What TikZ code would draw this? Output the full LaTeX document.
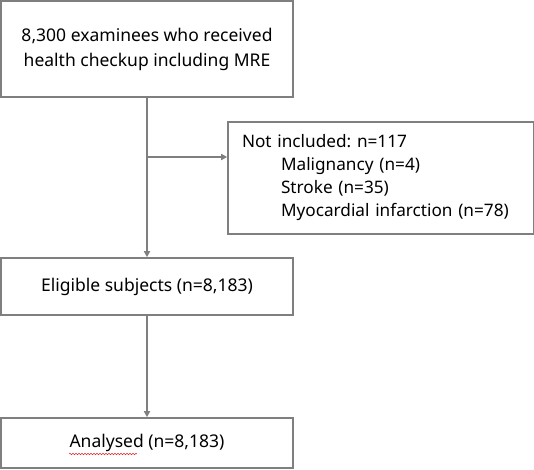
\documentclass[tikz,border=0pt]{standalone}
\usepackage{fontspec}
\setmainfont{Noto Sans}
\usetikzlibrary{arrows.meta,decorations.pathmorphing}
\definecolor{lgrey}{RGB}{127,127,127}
\definecolor{squig}{RGB}{220,40,40}
\frenchspacing
\begin{document}
\begin{tikzpicture}[x=1pt,y=-1pt,
  box/.style={draw=lgrey,line width=1.6pt,inner sep=0pt,font=\fontsize{17.5}{25}\selectfont,align=center},
  conn/.style={draw=lgrey,line width=1.6pt,-{Triangle[length=6pt,width=6pt]}}]
\useasboundingbox (0,0) rectangle (534,469);
\node[box,minimum width=292,minimum height=96] (b1) at (147,49) {8,300 examinees who received\\health checkup including MRE};
\node[box,minimum width=306,minimum height=112,align=left,text width=278,font=\fontsize{17.2}{23}\selectfont] (b2) at (381,178)
  {Not included: n=117\\\hspace*{39pt}Malignancy (n=4)\\\hspace*{39pt}Stroke (n=35)\\\hspace*{39pt}Myocardial infarction (n=78)};
\node[box,minimum width=292,minimum height=57] (b3) at (147,286.5) {Eligible subjects (n=8,183)};
\node[box,minimum width=292,minimum height=50] (b4) at (147,443) {Analysed (n=8,183)};
\coordinate (br) at (b1.south |- 0,157);
\draw[conn] (b1.south) -- (b3.north);
\draw[conn] (br) -- (b2.west |- br);
\draw[conn] (b3.south) -- (b4.north);
\draw[squig,line width=0.5pt,decorate,decoration={snake,amplitude=0.8pt,segment length=3pt}] (69,454) -- (137,454);
\end{tikzpicture}
\end{document}
